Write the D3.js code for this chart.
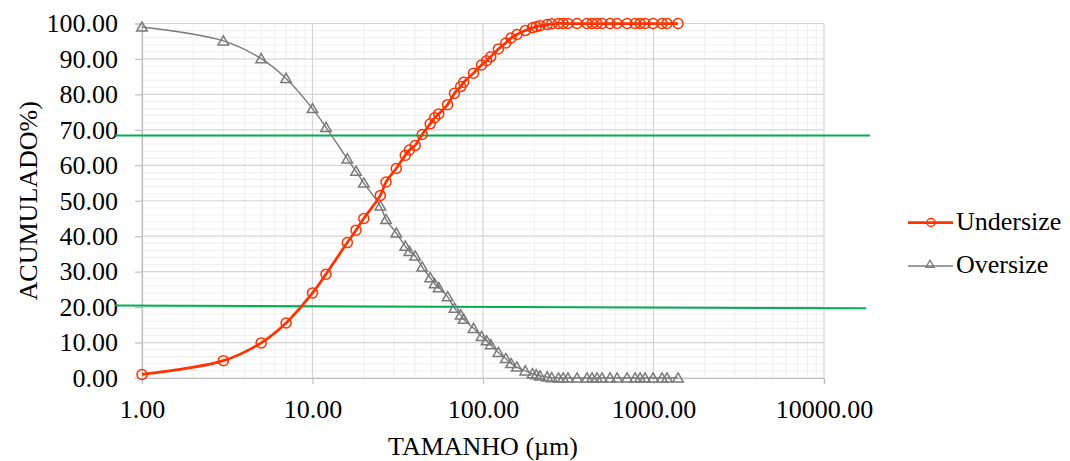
<!DOCTYPE html>
<html>
<head>
<meta charset="utf-8">
<script src="https://cdn.jsdelivr.net/npm/d3@7"></script>
<style>
  html, body { margin: 0; padding: 0; background: #fff; }
  svg { display: block; font-family: "Liberation Serif", "Times New Roman", serif; }
</style>
</head>
<body>
<svg id="chart" width="1070" height="461"></svg>
<script>
// ---- data ----
const sizes = [1, 3, 5, 7, 10, 12, 16, 18, 20, 25, 27, 31, 35, 37, 40, 44, 49, 52, 55, 62, 68, 74, 77, 88, 98,
  105, 111, 123, 136, 146, 158, 177, 195, 205, 216, 238, 253, 277, 295, 315, 356, 407, 436, 466, 499,
  556, 611, 700, 780, 834, 892, 994, 1122, 1200, 1393];
const undersize = [1.0, 4.9, 9.9, 15.5, 24.0, 29.3, 38.2, 41.7, 45.0, 51.5, 55.3, 59.1, 62.8, 64.3, 65.6, 68.7,
  71.7, 73.4, 74.5, 77.1, 80.3, 82.2, 83.4, 86.0, 88.3, 89.5, 90.6, 92.8, 94.5, 95.9, 96.9, 98.0, 98.8, 99.1,
  99.4, 99.7, 99.9, 100, 100, 100, 100, 100, 100, 100, 100, 100, 100, 100, 100, 100, 100, 100, 100, 100, 100];
const oversize = [99.0, 95.1, 90.1, 84.5, 76.0, 70.7, 61.8, 58.3, 55.0, 48.5, 44.7, 40.9, 37.2, 35.7, 34.4, 31.3,
  28.3, 26.6, 25.5, 22.9, 19.7, 17.8, 16.6, 14.0, 11.7, 10.5, 9.4, 7.2, 5.5, 4.1, 3.1, 2.0, 1.2, 0.9,
  0.6, 0.3, 0.1, 0, 0, 0, 0, 0, 0, 0, 0, 0, 0, 0, 0, 0, 0, 0, 0, 0, 0];
const xTicks = [1, 10, 100, 1000, 10000];
const yTicks = [0, 10, 20, 30, 40, 50, 60, 70, 80, 90, 100];
const seriesNames = ["Undersize", "Oversize"];
const xTitle = "TAMANHO (\u00b5m)";
const yTitle = "ACUMULADO%)";
// reference (green) lines: [x0, y0, x1, y1] in data units
const refLines = [[0.695, 68.4, 18600, 68.4], [0.695, 20.45, 17700, 19.65]];

// ---- layout ----
const svg = d3.select("#chart");
const x = d3.scaleLog().domain([1, 10000]).range([142, 824]);
const y = d3.scaleLinear().domain([0, 100]).range([378, 23.5]);
const FS = 26;
const red = "#ff3300", gray = "#7a7a7a", green = "#00b050";

// minor grid
const minorX = [];
for (let d = 1; d < 10000; d *= 10) for (let k = 2; k <= 9; k++) minorX.push(d * k);
const minorY = d3.range(0, 100, 2).filter(v => v % 10 !== 0);
const g = svg.append("g");
g.selectAll(".mx").data(minorX).join("line")
  .attr("x1", d => x(d)).attr("x2", d => x(d)).attr("y1", y(0)).attr("y2", y(100))
  .attr("stroke", "#efefef").attr("stroke-width", 1);
g.selectAll(".my").data(minorY).join("line")
  .attr("x1", x(1)).attr("x2", x(10000)).attr("y1", d => y(d)).attr("y2", d => y(d))
  .attr("stroke", "#efefef").attr("stroke-width", 1);
// major grid
g.selectAll(".Mx").data(xTicks).join("line")
  .attr("x1", d => x(d)).attr("x2", d => x(d)).attr("y1", y(0)).attr("y2", y(100))
  .attr("stroke", "#d4d4d4").attr("stroke-width", 1.2);
g.selectAll(".My").data(yTicks).join("line")
  .attr("x1", x(1)).attr("x2", x(10000)).attr("y1", d => y(d)).attr("y2", d => y(d))
  .attr("stroke", "#d4d4d4").attr("stroke-width", 1.2);

// axes
const yAxis = svg.append("g").attr("transform", `translate(${x(1)},0)`)
  .call(d3.axisLeft(y).tickValues(yTicks).tickFormat(d3.format(".2f")).tickSize(7).tickPadding(17));
const xAxis = svg.append("g").attr("transform", `translate(0,${y(0)})`)
  .call(d3.axisBottom(x).tickValues(xTicks).tickFormat(d3.format(".2f")).tickSize(6).tickPadding(16));
[xAxis, yAxis].forEach(a => {
  a.select(".domain").attr("stroke", "#bfbfbf").attr("stroke-width", 1.2);
  a.selectAll(".tick line").attr("stroke", "#bfbfbf").attr("stroke-width", 1.2);
  a.selectAll("text").attr("font-size", FS).attr("fill", "#000")
    .attr("font-family", "'Liberation Serif', 'Times New Roman', serif");
});

// titles
svg.append("text").attr("x", (x(1) + x(10000)) / 2).attr("y", 455)
  .attr("text-anchor", "middle").attr("font-size", FS).text(xTitle);
svg.append("text").attr("transform", `translate(37,${(y(0) + y(100)) / 2}) rotate(-90)`)
  .attr("text-anchor", "middle").attr("font-size", FS).text(yTitle);

// green reference lines
svg.selectAll(".ref").data(refLines).join("line")
  .attr("x1", d => x(d[0])).attr("y1", d => y(d[1])).attr("x2", d => x(d[2])).attr("y2", d => y(d[3]))
  .attr("stroke", green).attr("stroke-width", 2);

// series
const line = d3.line().curve(d3.curveCatmullRom.alpha(0.5));
const overPts = sizes.map((s, i) => [x(s), y(oversize[i])]);
const underPts = sizes.map((s, i) => [x(s), y(undersize[i])]);
const tri = d3.symbol().type(d3.symbolTriangle).size(48);

svg.append("path").attr("d", line(overPts)).attr("fill", "none").attr("stroke", gray).attr("stroke-width", 1.4);
svg.selectAll(".tri").data(overPts).join("path")
  .attr("d", tri).attr("transform", d => `translate(${d[0]},${d[1] + 1})`)
  .attr("fill", "none").attr("stroke", gray).attr("stroke-width", 1.5);

svg.append("path").attr("d", line(underPts)).attr("fill", "none").attr("stroke", red).attr("stroke-width", 2.75);
svg.selectAll(".circ").data(underPts).join("circle")
  .attr("cx", d => d[0]).attr("cy", d => d[1]).attr("r", 5)
  .attr("fill", "none").attr("stroke", red).attr("stroke-width", 1.5);

// legend
const leg = svg.append("g");
const legY = [222.5, 266];
leg.append("line").attr("x1", 908).attr("x2", 953).attr("y1", legY[0]).attr("y2", legY[0])
  .attr("stroke", red).attr("stroke-width", 2.75);
leg.append("circle").attr("cx", 931).attr("cy", legY[0]).attr("r", 4)
  .attr("fill", "none").attr("stroke", red).attr("stroke-width", 1.5);
leg.append("line").attr("x1", 908).attr("x2", 953).attr("y1", legY[1]).attr("y2", legY[1])
  .attr("stroke", gray).attr("stroke-width", 1.4);
leg.append("path").attr("d", d3.symbol().type(d3.symbolTriangle).size(30))
  .attr("transform", `translate(930,${legY[1] - 1})`)
  .attr("fill", "none").attr("stroke", gray).attr("stroke-width", 1.3);
leg.selectAll(".lt").data(seriesNames).join("text")
  .attr("x", 956).attr("y", (d, i) => legY[i] + 7).attr("font-size", FS).text(d => d);
</script>
</body>
</html>
